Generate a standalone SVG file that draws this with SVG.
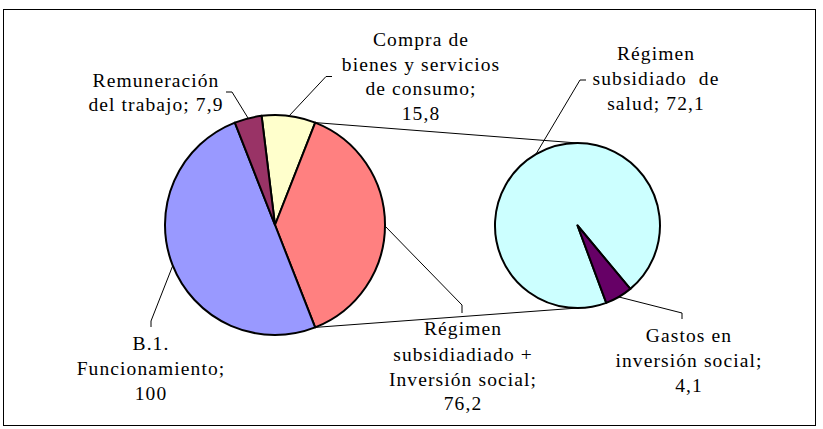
<svg xmlns="http://www.w3.org/2000/svg" width="823" height="429" viewBox="0 0 823 429">
<style>
  text { font-family: "Liberation Serif", "Times New Roman", serif; font-size: 19.5px; letter-spacing: 1.1px; fill: #000; text-anchor: middle; white-space: pre; }
  .slice { stroke: #000; stroke-width: 2; stroke-linejoin: round; }
  .lead { fill: none; stroke: #000; stroke-width: 1; }
</style>
<rect width="823" height="429" fill="#fff"/>
<rect x="3.5" y="9.5" width="812" height="416" fill="none" stroke="#000" stroke-width="1"/>
<g id="connectors">
  <path class="lead" d="M315.2,122.6 L577.5,143"/>
  <path class="lead" d="M315.1,327.4 L578,308"/>
  <path class="lead" d="M248,118 L232,92 L226,92"/>
  <path class="lead" d="M289,116 L326,76.5 L332,76.5"/>
  <path class="lead" d="M536,154 L580,80 L586,80"/>
  <path class="lead" d="M385,226 L462,305 L462,313"/>
  <path class="lead" d="M619,297 L682,313 L682,319"/>
  <path class="lead" d="M173,265 L151,321 L151,327"/>
</g>
<g id="pie-main">
  <path id="slice-compra" class="slice" fill="#FFFFCC" d="M275,225 L261.59,115.82 A110,110 0 0,1 315.21,122.61 Z"/>
  <path id="slice-regimen-inversion" class="slice" fill="#FF8080" d="M275,225 L315.21,122.61 A110,110 0 0,1 315.14,327.42 Z"/>
  <path id="slice-funcionamiento" class="slice" fill="#9999FF" d="M275,225 L315.14,327.42 A110,110 0 0,1 234.86,122.58 Z"/>
  <path id="slice-remuneracion" class="slice" fill="#993366" d="M275,225 L234.86,122.58 A110,110 0 0,1 261.59,115.82 Z"/>
</g>
<g id="pie-detail">
  <path id="slice-salud" class="slice" fill="#CCFFFF" d="M577.5,225.5 L606.26,302.83 A82.5,82.5 0 1,1 630.31,288.88 Z"/>
  <path id="slice-gastos" class="slice" fill="#660066" d="M577.5,225.5 L630.31,288.88 A82.5,82.5 0 0,1 606.26,302.83 Z"/>
</g>
<g id="label-remuneracion">
  <text x="156" y="86.5">Remuneración</text>
  <text x="156" y="110.5">del trabajo; 7,9</text>
</g>
<g id="label-compra">
  <text x="421" y="46">Compra de</text>
  <text x="421" y="70.5">bienes y servicios</text>
  <text x="421" y="95">de consumo;</text>
  <text x="421" y="119.5">15,8</text>
</g>
<g id="label-salud">
  <text x="656" y="60">Régimen</text>
  <text x="656" y="85">subsidiado  de</text>
  <text x="656" y="110">salud; 72,1</text>
</g>
<g id="label-regimen-inversion">
  <text x="463" y="335">Régimen</text>
  <text x="463" y="360.5">subsidiadiado +</text>
  <text x="463" y="385.5">Inversión social;</text>
  <text x="463" y="410">76,2</text>
</g>
<g id="label-funcionamiento">
  <text x="151" y="350">B.1.</text>
  <text x="151" y="375">Funcionamiento;</text>
  <text x="151" y="400">100</text>
</g>
<g id="label-gastos">
  <text x="689" y="342">Gastos en</text>
  <text x="689" y="367">inversión social;</text>
  <text x="689" y="391.5">4,1</text>
</g>
</svg>
